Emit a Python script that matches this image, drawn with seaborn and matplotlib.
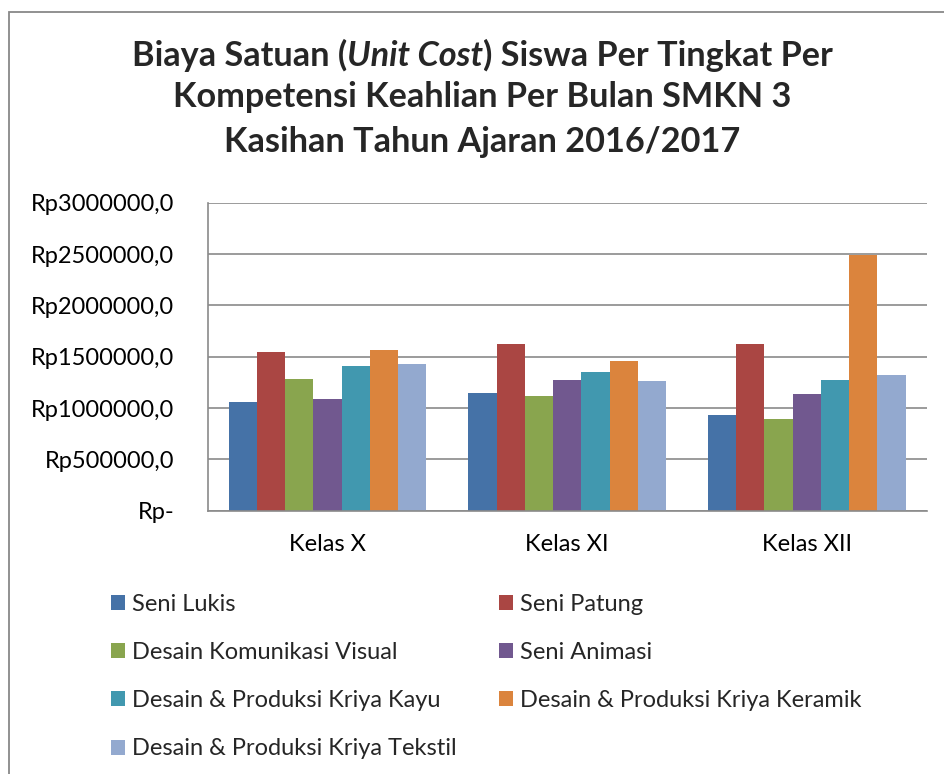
import pandas as pd
import matplotlib.pyplot as plt
import seaborn as sns
from matplotlib.patches import Patch, Rectangle
from matplotlib.ticker import FuncFormatter

# Data (Rp per siswa per bulan)
kelas = ["Kelas X", "Kelas XI", "Kelas XII"]
seni_lukis = [1058000, 1143000, 932000]
seni_patung = [1542000, 1620000, 1620000]
desain_komunikasi_visual = [1282000, 1114000, 890000]
seni_animasi = [1084000, 1269000, 1133000]
kriya_kayu = [1409000, 1351000, 1273000]
kriya_keramik = [1568000, 1458000, 2494000]
kriya_tekstil = [1428000, 1260000, 1321000]

jurusan = ["Seni Lukis", "Seni Patung", "Desain Komunikasi Visual", "Seni Animasi",
           "Desain & Produksi Kriya Kayu", "Desain & Produksi Kriya Keramik",
           "Desain & Produksi Kriya Tekstil"]
colors = ["#4572A7", "#AA4643", "#89A54E", "#71588F", "#4198AF", "#DB843D", "#93A9CF"]

series = [seni_lukis, seni_patung, desain_komunikasi_visual, seni_animasi,
          kriya_kayu, kriya_keramik, kriya_tekstil]
rows = []
for name, vals in zip(jurusan, series):
    for k, v in zip(kelas, vals):
        rows.append({"kelas": k, "jurusan": name, "biaya": v})
df = pd.DataFrame(rows)

sns.set_style("white")
plt.rcParams['font.family'] = ['Lato', 'DejaVu Sans']

W, H = 944, 774
fig = plt.figure(figsize=(W / 100, H / 100), dpi=100)
ax = fig.add_axes([207.7 / W, 1 - 510.7 / H, (926.7 - 207.7) / W, (510.7 - 202.7) / H])

sns.barplot(data=df, x="kelas", y="biaya", hue="jurusan", hue_order=jurusan,
            palette=colors, width=0.825, linewidth=0, saturation=1,
            legend=False, ax=ax)

ax.set_ylim(0, 3000000)
ax.set_yticks(range(0, 3000001, 500000))
ax.yaxis.set_major_formatter(FuncFormatter(lambda v, p: "Rp-" if v == 0 else f"Rp{int(v)},0"))
ax.set_xlabel("")
ax.set_ylabel("")

fs_lab = 17
grid_col = "#8a8a8a"
ax.grid(axis="y", color=grid_col, linewidth=1.2)
ax.set_axisbelow(True)
for s in ["top", "right"]:
    ax.spines[s].set_visible(False)
for s in ["left", "bottom"]:
    ax.spines[s].set_color(grid_col)
    ax.spines[s].set_linewidth(1.2)
ax.tick_params(axis="y", length=3, color=grid_col, pad=21, labelsize=fs_lab, labelcolor="black")
ax.tick_params(axis="x", length=0, pad=17, labelsize=fs_lab, labelcolor="black")

# chart border
fig.patches.append(Rectangle((9 / W, -0.1), 1.2, 1 - 12 / H + 0.1, transform=fig.transFigure,
                             fill=False, edgecolor="#888888", linewidth=1.3))

# title, three lines, "Unit Cost" in italic
fs_title = 24.7
cx = 482.5
renderer = fig.canvas.get_renderer()
pieces = [("Biaya Satuan (", "normal"), ("Unit Cost", "italic"), (") Siswa Per Tingkat Per", "normal")]
texts = [fig.text(0, 1 - 66 / H, s, fontsize=fs_title, fontweight="bold", fontstyle=st,
                  va="baseline", ha="left") for s, st in pieces]
widths = [t.get_window_extent(renderer).width for t in texts]
x0 = cx - sum(widths) / 2
for t, w in zip(texts, widths):
    t.set_x(x0 / W)
    x0 += w
fig.text(cx / W, 1 - 107 / H, "Kompetensi Keahlian Per Bulan SMKN 3", fontsize=fs_title,
         fontweight="bold", ha="center", va="baseline")
fig.text(cx / W, 1 - 152 / H, "Kasihan Tahun Ajaran 2016/2017", fontsize=fs_title,
         fontweight="bold", ha="center", va="baseline")

# legend in two columns
handles = [Patch(facecolor=c, edgecolor="none") for c in colors]
leg_kw = dict(frameon=False, fontsize=fs_lab, handlelength=0.6, handleheight=0.6,
              handletextpad=0.3, labelspacing=1.15, borderpad=0, borderaxespad=0,
              loc="upper left", bbox_transform=fig.transFigure)
col1 = [0, 2, 4, 6]
col2 = [1, 3, 5]
leg1 = fig.legend([handles[i] for i in col1], [jurusan[i] for i in col1],
                  bbox_to_anchor=(111 / W, 1 - 594 / H), **leg_kw)
leg2 = fig.legend([handles[i] for i in col2], [jurusan[i] for i in col2],
                  bbox_to_anchor=(499 / W, 1 - 594 / H), **leg_kw)

fig.savefig("out.png", dpi=100)
